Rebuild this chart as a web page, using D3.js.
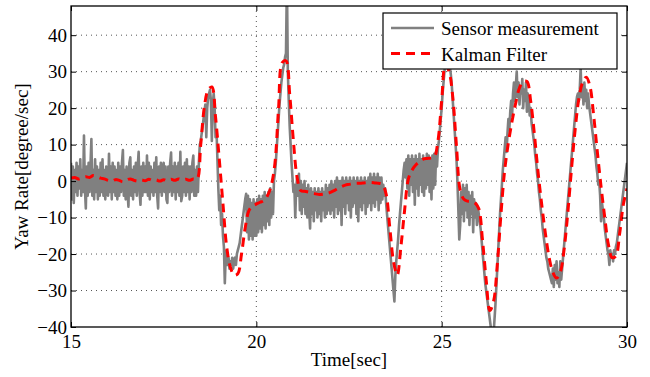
<!DOCTYPE html>
<html>
<head>
<meta charset="utf-8">
<script src="https://cdn.jsdelivr.net/npm/d3@7"></script>
<style>
  html, body { margin: 0; padding: 0; background: #fff; }
  svg { display: block; font-family: "Liberation Serif", "Times New Roman", serif; }
</style>
</head>
<body>
<svg id="chart" width="650" height="377"></svg>
<script>
// time of the first sample, sample steps (sec)
const T0 = 15;
const sensorStep = 0.025;
const kalmanStep = 0.1;

// raw yaw rate, one row per second (40 samples each)
const sensorValues = [
  5, -5, 4, -6, 3, -3, 5, -4, 4, -2, 6, -4, 3, -3, 12.5, -2, -7.5, 4, -4, 5, -3, 4, 11.5, -4, 3, -5, 6, -3, 4, -5, 3, -4, 5, -3, 6, -4, 3, -5, 4, -3,
  -4, 7.5, -3, 4, -5, 5, -3, 4, -4, 3, -5, 5, -4, 4, -3, 5, 8.5, -4, 3, -5, 4, -3, -7, 5, 6.5, -4, 3, -5, 4, -3, 5, -4, 4, 8, -3, -6.5, 4, -4, 5, -3,
  4, -3, 7, -4, 5, -5, 4, -3, 3, -4, 5, -3, 6.5, -4, -7.5, 4, -3, 5, -4, 3, 5, -3, 4, -5, -6, 4, -3, 5, 7.8, -4, 4, -3, 5, -5, 4, -3, 5, -4, 8, -5.5,
  -4, 4, -3, 5, -4, 6, -3, 4, -5, 4, -3, 5, 7, -4, 3, -4, 4, -3, 5, 10, 11, 13, 15, 17, 19, 21, 12, 20, 23, 24, 25, 22, 11, 21, 24, 20, 12, 14, 6, -2,
  -8, -4, -12, -9, -15, -18, -28, -20, -19, -23, -21, -24, -22, -23, -21, -24, -22, -21, -23, -20, -19, -18, -17, -15, -13, -11, -9, -7, -5, -3.5, -14, -4, -16, -5, -15, -6, -16, -5, -15, -6,
  -15, -5, -14, -4, -13, -5, -14, -4, -12, -3, -13, -4, -11, -3, -12, -2, -10, -3, -9, 0, 2, 5, 9, 13, 17, 21, 24, 27, 29, 31, 32, 34, 35, 55, 30, 22, 15, 10, 5, 1,
  -3, -1, -10, -2, 1, -4, 2, -8, 0, -9, -1, -7, 0, -9, -2, -10, -1, -8, -13, -2, -9, -3, -11, -2, -8, -3, -10, -2, -9, -3, -11, -2, -8, -3, -10, -1, -9, -2, -8, -1,
  -9, 0, -8, -1, -10, 0, -7, 1, -9, 0, -8, 0, -12, 1, -7, 0, -9, 1, -6, 0, -8, 1, -10, 0, -7, 1, -6, 0, -9, 1, -11, 0, -7, 1, -8, 0, -6, 1, -9, 0,
  -7, 1, -6, 2, -8, 1, -6, 2, -7, 1, -5, 2, -8, 1, -6, 1, -5, -1, -4, -2, -6, -9, -12, -15, -18, -21, -24, -27, -30, -33, -26, -22, -19, -16, -12, -9, -6, -3, 0, 3,
  5, 1, 6, -2, 7, -4, 6, -1, 7, -3, 6, -6.5, 7, -2, 6, -4, 7.5, -1, 6, -3, 7, -4, 6, -2, 7.5, -1, 7, -3, 6, -5, 7, -2, 7.5, -1, 8, 4, 9, 11, 14, 17,
  20, 24, 27, 30, 33, 36, 35, 34, 33, 31, 29, 26, 22, 18, 14, 10, 6, 0, -8, -16, -12, -3, -9, -1, -11, -2, -8, -1, -10, -3, -12, -4, -9, -3, -14, -5, -10, -6, -12, -7,
  -9, -11, -13, -16, -19, -22, -25, -28, -30, -32, -34, -36, -38, -40, -43, -44, -42, -38, -34, -29, -24, -19, -14, -9, -5, -1, 3, 6, 9, 12, 8, 13, 17, 14, 19, 22, 18, 24, 27, 22,
  26, 30, 23, 27, 21, 26, 24, 28, 20, 25, 22, 27, 19, 24, 22, 18, 20, 16, 14, 12, 10, 7, 5, 2, 0, -3, -5, -8, -10, -13, -15, -17, -19, -21, -22, -24, -25, -26, -27, -28,
  -24, -29, -23, -27, -22, -28, -25, -29, -22, -27, -24, -21, -18, -15, -12, -9, -6, -3, 0, 3, 6, 9, 12, 15, 18, 21, 23, 24, 22, 25, 31, 23, 26, 21, 27, 22, 25, 20, 24, 21,
  19, 17, 15, 13, 11, 9, 7, 4, 2, -1, 0, -4, -11, -6, -8, -10, -13, -15, -17, -19, -20, -23, -19, -21, -20, -22, -19, -20, -18, -17, -15, -13, -11, -9, -7, -5, -3, -1, 1, 3,
  5
];

// kalman estimate, one row per second (10 samples each)
const kalmanValues = [
  0.8, 1.0, 0.6, 0.9, 1.2, 1.0, 1.5, 1.2, 0.8, 0.6,
  0.2, 0.0, 0.4, 0.2, -0.2, 0.3, 0.6, 0.2, 0.0, 0.3,
  0.1, 0.5, 0.2, 0.3, 0.0, 0.4, 0.1, 0.5, 0.2, 0.6,
  0.3, 0.5, 0.2, 0.6, 0.5, 10, 20.5, 25, 25.8, 17.5,
  6, -6.3, -18, -23.6, -25.8, -25.4, -20, -12.8, -8.1, -6.8,
  -6.3, -5.8, -5.4, -4, -1.3, 4.7, 20, 32.5, 33, 23.8,
  11, 1, -2.6, -2.8, -3.0, -3.3, -3.5, -3.7, -3.6, -3.4,
  -3.1, -2.6, -2.0, -1.5, -1.1, -0.9, -0.7, -0.6, -0.6, -0.5,
  -0.4, -0.4, -0.5, -0.6, -0.9, -3.5, -12.7, -22, -25.8, -18,
  -8, 0.5, 3.0, 4.4, 5.3, 6.0, 6.2, 6.3, 6.6, 11,
  22, 32, 30, 23, 9.5, -2.5, -5, -5.5, -5.6, -6.0,
  -7.5, -16, -27, -35.5, -33, -23, -9, 3, 10.5, 16.5,
  21.5, 25.6, 27.3, 27.3, 22, 13, 2.5, -6.5, -14.5, -21,
  -25, -26.6, -25, -19, -9, 3, 14, 22.5, 27, 28.5,
  26, 18, 8, -1.5, -10, -17.5, -21, -20.5, -14.5, -6.5,
  -2
];

const xTicks = [15, 20, 25, 30];
const yTicks = [-40, -30, -20, -10, 0, 10, 20, 30, 40];
const legendLabels = ["Sensor measurement", "Kalman Filter"];

const FONT = '"Liberation Serif", "Times New Roman", serif';
const FS = 19;
const plot = {left: 71, top: 6, right: 627, bottom: 327};

const svg = d3.select('#chart');

const x = d3.scaleLinear().domain([15, 30]).range([plot.left, plot.right]);
const y = d3.scaleLinear().domain([-40, 48]).range([plot.bottom, plot.top]);

// clip for the data lines
svg.append('defs').append('clipPath')
    .attr('id', 'plotClip')
    .append('rect')
    .attr('x', plot.left)
    .attr('y', plot.top)
    .attr('width', plot.right - plot.left)
    .attr('height', plot.bottom - plot.top);

// dotted grid
const grid = svg.append('g').attr('class', 'grid')
    .attr('stroke', '#555')
    .attr('stroke-width', 1)
    .attr('stroke-dasharray', '1,4');

grid.selectAll('.gx')
    .data(xTicks.slice(1, -1))
    .join('line')
    .attr('x1', d => x(d)).attr('x2', d => x(d))
    .attr('y1', plot.top).attr('y2', plot.bottom);

grid.selectAll('.gy')
    .data(yTicks.slice(1))
    .join('line')
    .attr('x1', plot.left).attr('x2', plot.right)
    .attr('y1', d => y(d)).attr('y2', d => y(d));

// data lines
const sensor = sensorValues.map((v, i) => ({t: T0 + i * sensorStep, v}));
const kalman = kalmanValues.map((v, i) => ({t: T0 + i * kalmanStep, v}));

const lines = svg.append('g').attr('clip-path', 'url(#plotClip)');

lines.append('path')
    .datum(sensor)
    .attr('fill', 'none')
    .attr('stroke', '#808080')
    .attr('stroke-width', 2.6)
    .attr('stroke-linejoin', 'round')
    .attr('d', d3.line().x(d => x(d.t)).y(d => y(d.v)));

lines.append('path')
    .datum(kalman)
    .attr('fill', 'none')
    .attr('stroke', '#ff0000')
    .attr('stroke-width', 3)
    .attr('stroke-dasharray', '9,6')
    .attr('d', d3.line().curve(d3.curveCatmullRom).x(d => x(d.t)).y(d => y(d.v)));

// axes with inward ticks, matlab style
const tick = 5;
const axes = [
  {axis: d3.axisBottom(x).tickValues(xTicks).tickPadding(7.5), at: `translate(0,${plot.bottom})`},
  {axis: d3.axisLeft(y).tickValues(yTicks).tickPadding(4), at: `translate(${plot.left},0)`},
  {axis: d3.axisTop(x).tickValues(xTicks).tickFormat(''), at: `translate(0,${plot.top})`},
  {axis: d3.axisRight(y).tickValues(yTicks).tickFormat(''), at: `translate(${plot.right},0)`}
];
axes.forEach(a => {
  svg.append('g')
      .attr('transform', a.at)
      .call(a.axis.tickSize(-tick))
      .call(g => g.select('.domain').remove())
      .attr('font-family', FONT)
      .attr('font-size', FS);
});

svg.selectAll('.tick text').attr('fill', '#000');
svg.selectAll('.tick line').attr('stroke', '#000');

// frame
svg.append('rect')
    .attr('x', plot.left).attr('y', plot.top)
    .attr('width', plot.right - plot.left)
    .attr('height', plot.bottom - plot.top)
    .attr('fill', 'none')
    .attr('stroke', '#000')
    .attr('stroke-width', 1.3);

// axis titles
svg.append('text')
    .attr('x', (plot.left + plot.right) / 2)
    .attr('y', 366)
    .attr('text-anchor', 'middle')
    .attr('font-family', FONT)
    .attr('font-size', FS)
    .text('Time[sec]');

svg.append('text')
    .attr('transform', `translate(28,${(plot.top + plot.bottom) / 2}) rotate(-90)`)
    .attr('text-anchor', 'middle')
    .attr('font-family', FONT)
    .attr('font-size', FS)
    .text('Yaw Rate[degree/sec]');

// legend
const legend = svg.append('g').attr('class', 'legend');
legend.append('rect')
    .attr('x', 383).attr('y', 13)
    .attr('width', 234).attr('height', 56)
    .attr('fill', '#fff')
    .attr('stroke', '#000')
    .attr('stroke-width', 1.2);

const legendStyles = [
  {stroke: '#808080', width: 2.6, dash: null},
  {stroke: '#ff0000', width: 3, dash: '9,6'}
];

legendLabels.forEach((label, i) => {
  const ly = 28 + i * 25.5;
  legend.append('line')
      .attr('x1', 391).attr('x2', 434)
      .attr('y1', ly).attr('y2', ly)
      .attr('stroke', legendStyles[i].stroke)
      .attr('stroke-width', legendStyles[i].width)
      .attr('stroke-dasharray', legendStyles[i].dash);
  legend.append('text')
      .attr('x', 441)
      .attr('y', ly + 7)
      .attr('font-family', FONT)
      .attr('font-size', FS)
      .text(label);
});
</script>
</body>
</html>
